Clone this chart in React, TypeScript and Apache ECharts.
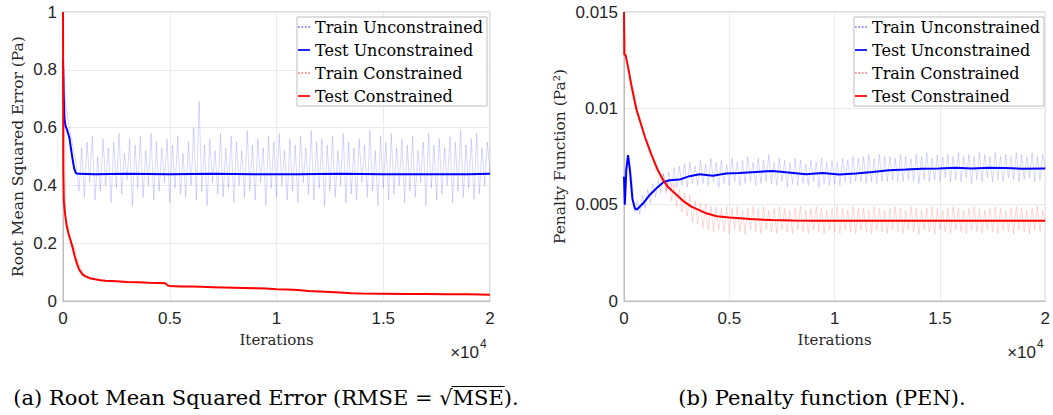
import React, { useEffect, useRef } from "react";
import * as echarts from "echarts";

// ---------------- data ----------------
const SERIES_NAMES = ["Train Unconstrained", "Test Unconstrained", "Train Constrained", "Test Constrained"];
const X_MAX = 20000;
const X_INTERVAL = 5000;
const X_SCALE = 10000; // axis shown in units of 10^4
const TRAIN_STEP = 125; // iteration spacing of the train samples

const RMSE_MAX = 1;
const RMSE_INTERVAL = 0.2;
const PEN_MAX = 0.015;
const PEN_INTERVAL = 0.005;

// (a) RMSE
const testUncRmse: [number, number][] = [
  [0, 0.84], [30, 0.72], [70, 0.63], [120, 0.605], [200, 0.59], [300, 0.565], [380, 0.525], [450, 0.49],
  [520, 0.46], [600, 0.443], [700, 0.44], [1500, 0.439], [3000, 0.44], [5000, 0.439], [7000, 0.44],
  [9000, 0.439], [11000, 0.439], [13000, 0.44], [15000, 0.439], [17000, 0.439], [19000, 0.439], [20000, 0.44],
];

const testConRmse: [number, number][] = [
  [0, 1.0], [15, 0.45], [40, 0.345], [100, 0.3], [160, 0.265], [250, 0.235], [350, 0.21], [450, 0.185],
  [550, 0.155], [650, 0.13], [750, 0.11], [900, 0.093], [1050, 0.085], [1250, 0.079], [1500, 0.075],
  [1750, 0.072], [2000, 0.07], [2500, 0.068], [3000, 0.066], [3500, 0.065], [4000, 0.063], [4500, 0.062],
  [4800, 0.061], [4900, 0.054], [5000, 0.052], [5500, 0.05], [6000, 0.05], [6500, 0.049], [7000, 0.048],
  [7500, 0.047], [8000, 0.046], [8500, 0.045], [9000, 0.044], [9500, 0.043], [10000, 0.041], [10500, 0.04],
  [11000, 0.038], [11500, 0.035], [12000, 0.033], [12500, 0.031], [13000, 0.029], [13500, 0.027],
  [14000, 0.026], [15000, 0.025], [16000, 0.024], [17000, 0.024], [18000, 0.023], [19000, 0.023], [20000, 0.022],
];

const trainUncRmse: number[] = [
  0.86, 0.68, 0.62, 0.57, 0.52, 0.47, 0.38, 0.53, 0.36, 0.55,
  0.41, 0.57, 0.35, 0.50, 0.38, 0.56, 0.40, 0.53, 0.34, 0.55,
  0.39, 0.58, 0.37, 0.51, 0.42, 0.56, 0.33, 0.54, 0.39, 0.57,
  0.36, 0.52, 0.40, 0.58, 0.35, 0.55, 0.38, 0.53, 0.41, 0.56,
  0.34, 0.54, 0.39, 0.57, 0.37, 0.51, 0.36, 0.55, 0.40, 0.60,
  0.35, 0.69, 0.38, 0.54, 0.33, 0.56, 0.41, 0.52, 0.37, 0.58,
  0.36, 0.53, 0.39, 0.57, 0.34, 0.55, 0.40, 0.52, 0.36, 0.59,
  0.38, 0.54, 0.35, 0.56, 0.41, 0.53, 0.33, 0.57, 0.39, 0.55,
  0.36, 0.58, 0.40, 0.52, 0.35, 0.56, 0.38, 0.54, 0.34, 0.57,
  0.41, 0.53, 0.37, 0.59, 0.35, 0.55, 0.39, 0.56, 0.33, 0.54,
  0.38, 0.57, 0.36, 0.52, 0.40, 0.58, 0.34, 0.55, 0.37, 0.53,
  0.35, 0.56, 0.41, 0.54, 0.36, 0.59, 0.38, 0.52, 0.33, 0.57,
  0.39, 0.55, 0.35, 0.58, 0.37, 0.53, 0.40, 0.56, 0.34, 0.54,
  0.38, 0.57, 0.36, 0.52, 0.41, 0.55, 0.33, 0.58, 0.39, 0.54,
  0.35, 0.56, 0.37, 0.53, 0.40, 0.57, 0.34, 0.55, 0.38, 0.59,
  0.36, 0.54, 0.39, 0.56, 0.35, 0.58, 0.37, 0.53, 0.40, 0.55, 0.44,
];

const trainConRmse: number[] = [
  0.95, 0.30, 0.245, 0.21, 0.19, 0.16, 0.125, 0.105, 0.094, 0.088,
  0.083, 0.080, 0.077, 0.075, 0.074, 0.072, 0.071, 0.070, 0.069, 0.070,
  0.068, 0.069, 0.067, 0.068, 0.066, 0.067, 0.065, 0.067, 0.064, 0.066,
  0.065, 0.063, 0.065, 0.062, 0.064, 0.061, 0.063, 0.062, 0.061, 0.060,
  0.053, 0.051, 0.052, 0.050, 0.051, 0.049, 0.050, 0.051, 0.049, 0.050,
  0.049, 0.050, 0.048, 0.049, 0.050, 0.048, 0.049, 0.047, 0.048, 0.049,
  0.047, 0.048, 0.046, 0.047, 0.048, 0.046, 0.047, 0.045, 0.046, 0.045,
  0.046, 0.044, 0.045, 0.044, 0.045, 0.043, 0.044, 0.043, 0.042, 0.043,
  0.041, 0.042, 0.040, 0.041, 0.039, 0.040, 0.038, 0.039, 0.037, 0.036,
  0.036, 0.035, 0.034, 0.035, 0.033, 0.032, 0.033, 0.031, 0.030, 0.031,
  0.029, 0.030, 0.028, 0.029, 0.027, 0.028, 0.027, 0.026, 0.027, 0.026,
  0.026, 0.025, 0.026, 0.025, 0.024, 0.025, 0.024, 0.025, 0.024, 0.025,
  0.024, 0.025, 0.023, 0.024, 0.025, 0.023, 0.024, 0.023, 0.024, 0.025,
  0.023, 0.024, 0.023, 0.024, 0.022, 0.024, 0.023, 0.022, 0.024, 0.023,
  0.022, 0.023, 0.024, 0.022, 0.023, 0.022, 0.023, 0.024, 0.022, 0.023,
  0.022, 0.023, 0.021, 0.023, 0.022, 0.024, 0.022, 0.021, 0.023, 0.022, 0.022,
];

// (b) PEN
const testUncPen: [number, number][] = [
  [0, 0.00645], [40, 0.0050], [110, 0.0068], [190, 0.00757], [280, 0.0068], [400, 0.0053], [520, 0.0048],
  [615, 0.00475], [900, 0.00506], [1215, 0.0055], [1531, 0.00584], [1878, 0.00618], [2163, 0.00627],
  [2636, 0.0063], [3110, 0.00648], [3583, 0.00658], [4215, 0.0065], [4846, 0.00662], [5477, 0.00665],
  [6267, 0.0067], [7056, 0.00675], [7687, 0.00668], [8634, 0.00658], [9424, 0.00664], [10213, 0.00657],
  [11002, 0.00662], [11792, 0.0067], [12581, 0.00679], [13370, 0.00682], [14160, 0.00686], [14949, 0.00688],
  [15738, 0.00691], [16527, 0.00688], [17316, 0.00691], [18106, 0.0069], [18895, 0.00687], [20000, 0.00688],
];

const testConPen: [number, number][] = [
  [0, 0.015], [15, 0.0128], [80, 0.01275], [200, 0.0121], [350, 0.0112], [500, 0.0104], [600, 0.0099],
  [800, 0.0092], [1000, 0.0085], [1300, 0.0076], [1600, 0.0068], [1850, 0.0063], [2100, 0.0059],
  [2400, 0.0056], [2800, 0.0052], [3200, 0.0049], [3600, 0.0047], [3900, 0.00455], [4400, 0.0044],
  [5000, 0.00433], [6000, 0.00425], [7000, 0.0042], [8000, 0.00418], [9000, 0.00417], [10000, 0.00416],
  [12000, 0.00416], [14000, 0.00416], [16000, 0.00416], [18000, 0.00416], [20000, 0.00416],
];

const trainUncPen: number[] = [
  0.0064, 0.0073, 0.0075, 0.0063, 0.0046, 0.0052, 0.0045, 0.0055, 0.0048, 0.0058,
  0.0051, 0.0061, 0.0054, 0.0063, 0.0056, 0.0066, 0.0057, 0.0067, 0.0058, 0.0069,
  0.0059, 0.0070, 0.0060, 0.0071, 0.0059, 0.0072, 0.0061, 0.0070, 0.0060, 0.0073,
  0.0061, 0.0071, 0.0060, 0.0074, 0.0062, 0.0072, 0.0059, 0.0073, 0.0061, 0.0071,
  0.0060, 0.0074, 0.0062, 0.0072, 0.0060, 0.0073, 0.0061, 0.0075, 0.0062, 0.0072,
  0.0060, 0.0074, 0.0061, 0.0073, 0.0062, 0.0076, 0.0061, 0.0072, 0.0060, 0.0074,
  0.0062, 0.0073, 0.0059, 0.0072, 0.0061, 0.0074, 0.0060, 0.0073, 0.0061, 0.0071,
  0.0060, 0.0073, 0.0062, 0.0072, 0.0059, 0.0074, 0.0061, 0.0072, 0.0060, 0.0073,
  0.0061, 0.0072, 0.0060, 0.0074, 0.0062, 0.0073, 0.0061, 0.0075, 0.0062, 0.0074,
  0.0062, 0.0075, 0.0061, 0.0076, 0.0062, 0.0074, 0.0061, 0.0076, 0.0062, 0.0075,
  0.0062, 0.0075, 0.0063, 0.0074, 0.0062, 0.0076, 0.0062, 0.0075, 0.0063, 0.0074,
  0.0062, 0.0076, 0.0061, 0.0075, 0.0063, 0.0077, 0.0062, 0.0074, 0.0063, 0.0076,
  0.0062, 0.0075, 0.0064, 0.0076, 0.0062, 0.0075, 0.0063, 0.0077, 0.0062, 0.0075,
  0.0064, 0.0076, 0.0061, 0.0075, 0.0063, 0.0077, 0.0062, 0.0076, 0.0064, 0.0075,
  0.0062, 0.0077, 0.0063, 0.0075, 0.0062, 0.0076, 0.0064, 0.0075, 0.0063, 0.0077,
  0.0062, 0.0076, 0.0063, 0.0075, 0.0064, 0.0077, 0.0062, 0.0075, 0.0063, 0.0076, 0.0069,
];

const trainConPen: number[] = [
  0.0148, 0.0124, 0.0119, 0.0112, 0.0107, 0.0100, 0.0095, 0.0090, 0.0084, 0.0082,
  0.0076, 0.0075, 0.0068, 0.0069, 0.0062, 0.0066, 0.0056, 0.0063, 0.0052, 0.0061,
  0.0049, 0.0058, 0.0046, 0.0056, 0.0044, 0.0055, 0.0041, 0.0052, 0.0040, 0.0051,
  0.0038, 0.0050, 0.0037, 0.0049, 0.0036, 0.0049, 0.0037, 0.0048, 0.0036, 0.0049,
  0.0035, 0.0048, 0.0037, 0.0049, 0.0036, 0.0047, 0.0035, 0.0048, 0.0037, 0.0049,
  0.0036, 0.0048, 0.0035, 0.0049, 0.0037, 0.0047, 0.0036, 0.0048, 0.0035, 0.0049,
  0.0037, 0.0048, 0.0036, 0.0047, 0.0035, 0.0048, 0.0037, 0.0049, 0.0036, 0.0047,
  0.0035, 0.0048, 0.0037, 0.0049, 0.0036, 0.0048, 0.0035, 0.0047, 0.0037, 0.0048,
  0.0036, 0.0049, 0.0035, 0.0048, 0.0037, 0.0047, 0.0036, 0.0049, 0.0035, 0.0048,
  0.0037, 0.0048, 0.0036, 0.0047, 0.0035, 0.0049, 0.0037, 0.0048, 0.0036, 0.0047,
  0.0035, 0.0048, 0.0037, 0.0049, 0.0036, 0.0048, 0.0035, 0.0047, 0.0037, 0.0049,
  0.0036, 0.0048, 0.0035, 0.0047, 0.0037, 0.0048, 0.0036, 0.0049, 0.0035, 0.0048,
  0.0037, 0.0047, 0.0036, 0.0048, 0.0035, 0.0049, 0.0037, 0.0048, 0.0036, 0.0047,
  0.0035, 0.0048, 0.0037, 0.0049, 0.0036, 0.0048, 0.0035, 0.0047, 0.0037, 0.0048,
  0.0036, 0.0049, 0.0035, 0.0048, 0.0037, 0.0047, 0.0036, 0.0048, 0.0035, 0.0049,
  0.0037, 0.0048, 0.0036, 0.0047, 0.0035, 0.0048, 0.0037, 0.0049, 0.0036, 0.0047, 0.0042,
];

const Y_NAME_A = "Root Mean Squared Error (Pa)";
const Y_NAME_B = "Penalty Function (Pa\u00b2)";
const X_NAME = "Iterations";
const CAPTION_A_PREFIX = "(a) Root Mean Squared Error (RMSE = \u221a";
const CAPTION_A_ROOT = "MSE";
const CAPTION_A_SUFFIX = ").";
const CAPTION_B = "(b) Penalty function (PEN).";

// ---------------- styling ----------------
const W = 1053;
const H = 415;
const BLUE = "#0000ff";
const RED = "#ff0000";
const SERIF = "'DejaVu Serif', serif";
const SANS = "'Liberation Sans', Arial, sans-serif";
const TICK_COLOR = "#262626";
const AXIS_COLOR = "#bdbdbd";
const GRID_COLOR = "#ebebeb";
const CAPTION_SIZE = 21;

const trainPoints = (vals: number[]) => vals.map((v, i) => [i * TRAIN_STEP, v]);

function measure(text: string, font: string): number {
  const c = document.createElement("canvas");
  const ctx = c.getContext("2d")!;
  ctx.font = font;
  return ctx.measureText(text).width;
}

const DOTTED_ICON = "path://M0,0h2v2h-2z M4,0h2v2h-2z M8,0h2v2h-2z M12,0h2v2h-2z";
const SOLID_ICON = "path://M0,0h14v2h-14z";

function buildOption() {
  const grids = [
    { left: 63, top: 12, width: 427, height: 289 },
    { left: 624, top: 12, width: 423, height: 289 },
  ];

  const xAxis = grids.map((_, i) => ({
    type: "value",
    gridIndex: i,
    min: 0,
    max: X_MAX,
    interval: X_INTERVAL,
    name: X_NAME,
    nameLocation: "middle",
    nameGap: 31,
    nameTextStyle: { fontFamily: SERIF, fontSize: 15, color: "#262626" },
    axisLine: { show: true, lineStyle: { color: AXIS_COLOR } },
    axisTick: { show: false },
    axisLabel: {
      margin: 9,
      fontFamily: SANS,
      fontSize: 17,
      color: TICK_COLOR,
      formatter: (v: number) => String(v / X_SCALE),
    },
    splitLine: { show: true, lineStyle: { color: GRID_COLOR, width: 1 } },
  }));

  const yAxis = [
    {
      type: "value",
      gridIndex: 0,
      min: 0,
      max: RMSE_MAX,
      interval: RMSE_INTERVAL,
      name: Y_NAME_A,
      nameLocation: "middle",
      nameGap: 37,
      nameTextStyle: { fontFamily: SERIF, fontSize: 15.5, color: "#262626" },
      axisLine: { show: true, lineStyle: { color: AXIS_COLOR } },
      axisTick: { show: false },
      axisLabel: {
        margin: 6,
        fontFamily: SANS,
        fontSize: 17,
        color: TICK_COLOR,
        formatter: (v: number) => String(+v.toFixed(2)),
      },
      splitLine: { show: true, lineStyle: { color: GRID_COLOR, width: 1 } },
    },
    {
      type: "value",
      gridIndex: 1,
      min: 0,
      max: PEN_MAX,
      interval: PEN_INTERVAL,
      name: Y_NAME_B,
      nameLocation: "middle",
      nameGap: 56,
      nameTextStyle: { fontFamily: SERIF, fontSize: 15.5, color: "#262626" },
      axisLine: { show: true, lineStyle: { color: AXIS_COLOR } },
      axisTick: { show: false },
      axisLabel: {
        margin: 6,
        fontFamily: SANS,
        fontSize: 17,
        color: TICK_COLOR,
        formatter: (v: number) => String(+v.toFixed(3)),
      },
      splitLine: { show: true, lineStyle: { color: GRID_COLOR, width: 1 } },
    },
  ];

  const trainStyle = (color: string) => ({ color, width: 0.8, opacity: 0.2 });
  const testStyle = (color: string) => ({ color, width: 2 });

  const mkSeries = (
    gi: number,
    trainU: number[],
    testU: [number, number][],
    trainC: number[],
    testC: [number, number][]
  ) => [
    {
      name: SERIES_NAMES[0], type: "line", xAxisIndex: gi, yAxisIndex: gi, data: trainPoints(trainU),
      showSymbol: false, symbol: "none", itemStyle: { color: BLUE }, lineStyle: trainStyle(BLUE), z: 2,
    },
    {
      name: SERIES_NAMES[1], type: "line", xAxisIndex: gi, yAxisIndex: gi, data: testU,
      showSymbol: false, symbol: "none", itemStyle: { color: BLUE }, lineStyle: testStyle(BLUE), z: 4,
    },
    {
      name: SERIES_NAMES[2], type: "line", xAxisIndex: gi, yAxisIndex: gi, data: trainPoints(trainC),
      showSymbol: false, symbol: "none", itemStyle: { color: RED }, lineStyle: trainStyle(RED), z: 3,
    },
    {
      name: SERIES_NAMES[3], type: "line", xAxisIndex: gi, yAxisIndex: gi, data: testC,
      showSymbol: false, symbol: "none", itemStyle: { color: RED }, lineStyle: testStyle(RED), z: 5,
    },
  ];

  const legendData = SERIES_NAMES.map((name, i) => ({
    name,
    icon: i % 2 === 0 ? DOTTED_ICON : SOLID_ICON,
    itemStyle: { color: i < 2 ? BLUE : RED, opacity: i % 2 === 0 ? 0.55 : 1 },
  }));

  const legendBase = {
    data: legendData,
    orient: "vertical",
    top: 17,
    selectedMode: false,
    backgroundColor: "#ffffff",
    borderColor: "#bdbdbd",
    borderWidth: 1,
    padding: [1, 4, 1, 1],
    itemGap: 5,
    itemWidth: 12,
    itemHeight: 2,
    textStyle: { fontFamily: SERIF, fontSize: 16, color: "#000", lineHeight: 18, padding: [0, 0, 0, 0] },
  };

  // caption (a) with overline over the radicand
  const capFont = `${CAPTION_SIZE}px 'DejaVu Serif'`;
  const wPre = measure(CAPTION_A_PREFIX, capFont);
  const wRoot = measure(CAPTION_A_ROOT, capFont);
  const wSuf = measure(CAPTION_A_SUFFIX, capFont);
  const capAWidth = wPre + wRoot + wSuf;
  const capALeft = 266 - capAWidth / 2;
  const capY = 398;

  const xTimes = (right: number) => [
    {
      type: "text",
      x: right - 11,
      y: 352,
      style: { text: "\u00d710", fontFamily: SANS, fontSize: 17, fill: TICK_COLOR, align: "right", verticalAlign: "middle" },
    },
    {
      type: "text",
      x: right - 10,
      y: 344,
      style: { text: "4", fontFamily: SANS, fontSize: 12, fill: TICK_COLOR, align: "left", verticalAlign: "middle" },
    },
  ];

  const graphic = [
    ...xTimes(490),
    ...xTimes(1047),
    {
      type: "text",
      x: capALeft,
      y: capY,
      style: {
        text: CAPTION_A_PREFIX + CAPTION_A_ROOT + CAPTION_A_SUFFIX,
        fontFamily: SERIF,
        fontSize: CAPTION_SIZE,
        fill: "#000",
        align: "left",
        verticalAlign: "middle",
      },
    },
    {
      type: "line",
      shape: { x1: capALeft + wPre - 1, y1: capY - 11.5, x2: capALeft + wPre + wRoot + 1, y2: capY - 11.5 },
      style: { stroke: "#000", lineWidth: 1.2 },
    },
    {
      type: "text",
      x: 822,
      y: capY,
      style: { text: CAPTION_B, fontFamily: SERIF, fontSize: CAPTION_SIZE, fill: "#000", align: "center", verticalAlign: "middle" },
    },
  ];

  return {
    animation: false,
    backgroundColor: "#ffffff",
    grid: grids.map((g) => ({ ...g, show: true, borderColor: AXIS_COLOR, borderWidth: 1, backgroundColor: "transparent" })),
    xAxis,
    yAxis,
    legend: [
      { ...legendBase, left: 297 },
      { ...legendBase, left: 854 },
    ],
    series: [
      ...mkSeries(0, trainUncRmse, testUncRmse, trainConRmse, testConRmse),
      ...mkSeries(1, trainUncPen, testUncPen, trainConPen, testConPen),
    ],
    graphic,
  };
}

export default function App() {
  const ref = useRef<HTMLDivElement>(null);
  useEffect(() => {
    document.body.style.margin = "0";
    if (!ref.current) return;
    const chart = echarts.init(ref.current, undefined, { renderer: "svg", width: W, height: H });
    chart.setOption(buildOption() as any);
    return () => chart.dispose();
  }, []);
  return <div ref={ref} style={{ width: W, height: H }} />;
}
